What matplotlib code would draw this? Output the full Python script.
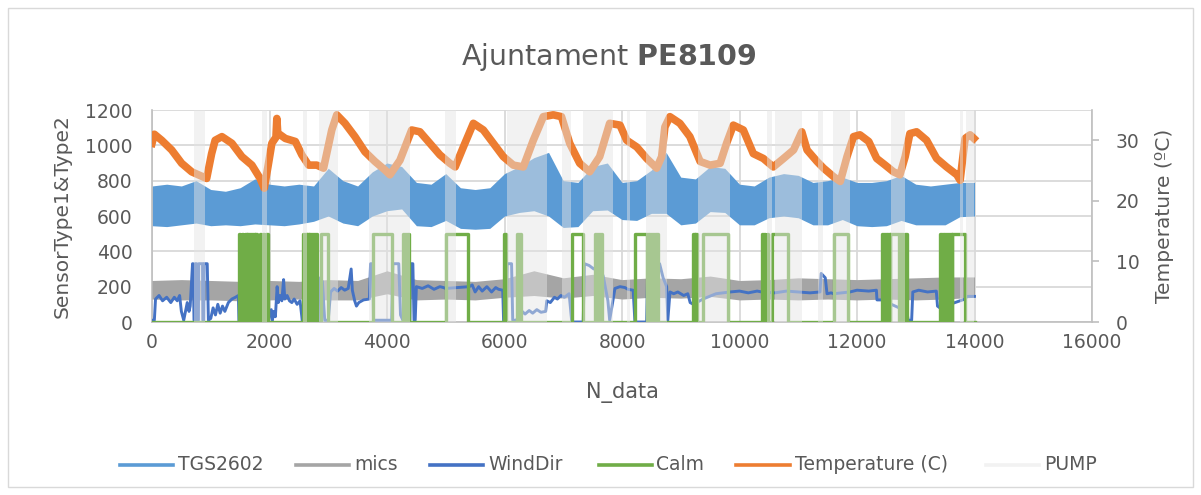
import matplotlib
matplotlib.use("Agg")
import matplotlib.pyplot as plt
from matplotlib.lines import Line2D
from matplotlib.patches import Rectangle

plt.rcParams["font.family"] = ["DejaVu Sans"]
TXT = "#595959"

# ---------------------------------------------------------------- data
# TGS2602 band (left axis), envelope
tgs_x = [0, 250, 500, 750, 1000, 1250, 1500, 1750, 2000, 2250, 2500, 2750, 3000, 3250,
         3500, 3750, 4000, 4250, 4500, 4750, 5000, 5250, 5500, 5750, 6000, 6250, 6500,
         6750, 7000, 7250, 7500, 7750, 8000, 8250, 8500, 8750, 9000, 9250, 9500, 9750,
         10000, 10250, 10500, 10750, 11000, 11250, 11500, 11750, 12000, 12250, 12500,
         12750, 13000, 13250, 13500, 13750, 14000]
tgs_hi = [770, 780, 770, 800, 750, 740, 760, 810, 780, 770, 780, 770, 870, 800,
          770, 850, 900, 880, 790, 780, 840, 760, 750, 760, 840, 880, 930,
          960, 800, 790, 880, 900, 790, 800, 860, 960, 820, 810, 880, 870,
          780, 770, 820, 840, 830, 790, 800, 820, 790, 790, 800,
          830, 780, 770, 780, 790, 790]
tgs_lo = [545, 540, 550, 560, 545, 550, 545, 555, 550, 545, 555, 570, 600, 560,
          545, 600, 630, 640, 545, 540, 575, 530, 525, 530, 600, 620, 630,
          600, 535, 540, 630, 634, 580, 575, 615, 615, 550, 560, 625, 620,
          550, 550, 590, 600, 590, 550, 550, 580, 545, 540, 545,
          575, 550, 550, 550, 596, 600]

# mics band (left axis)
mics_x = [0, 500, 1000, 1500, 2000, 2500, 3000, 3500, 4000, 4500, 5000, 5500, 6000,
          6500, 7000, 7500, 8000, 8500, 9000, 9500, 10000, 10500, 11000, 11500, 12000,
          12500, 13000, 13500, 14000]
mics_hi = [235, 240, 235, 230, 235, 230, 240, 235, 290, 240, 235, 230, 245,
           290, 250, 270, 240, 250, 245, 260, 235, 240, 250, 245, 240,
           245, 250, 255, 255]
mics_lo = [130, 125, 125, 120, 125, 130, 125, 125, 160, 125, 130, 125, 140,
           150, 135, 150, 130, 140, 135, 145, 125, 130, 125, 130, 125,
           130, 125, 130, 140]

# WindDir (left axis)
wd_x = [0, 40, 60, 120, 180, 250, 320, 380, 430, 470, 500, 540, 570, 600, 630, 650,
        690, 700, 715, 730, 735, 760, 765, 790, 795, 860, 865, 880, 885, 940, 960,
        1000, 1040, 1080, 1120, 1160, 1200, 1240, 1300, 1360, 1420, 1470, 1480, 1980,
        2000, 2030, 2050, 2070, 2100, 2130, 2150, 2180, 2210, 2240, 2260, 2300, 2340,
        2380, 2420, 2470, 2520, 2560, 2830, 2840, 2900, 2940, 3000, 3040, 3100, 3160,
        3220, 3280, 3340, 3390, 3410, 3450, 3480, 3520, 3600, 3700, 3720, 3760, 3770,
        4080, 4100, 4200, 4230, 4270, 4390, 4400, 4440, 4460, 4480, 4500, 4600, 4700,
        4800, 4900, 4960, 5000, 5400, 5450, 5500, 5560, 5620, 5700, 5780, 5850, 5900,
        5970, 5985, 6030, 6045, 6120, 6140, 6200, 6260, 6300, 6350, 6420, 6480, 6550,
        6620, 6700, 6720, 6780, 6850, 6900, 6960, 7020, 7100, 7145, 7340, 7360, 7440,
        7520, 7600, 7680, 7760, 7790, 7830, 7880, 7966, 8050, 8100, 8190, 8220, 8420,
        8440, 8640, 8700, 8760, 8780, 8817, 8880, 8950, 9050, 9120, 9160, 9215, 9380,
        9600, 9840, 10000, 10150, 10300, 10380, 10600, 10800, 11000, 11200, 11370,
        11390, 11460, 11490, 11560, 11600, 11880, 12000, 12200, 12330, 12340, 12420,
        12850, 12870, 12930, 12950, 13050, 13200, 13350, 13370, 13410, 13840, 13870,
        14000]
wd_v = [10, 10, 130, 150, 120, 140, 110, 140, 120, 150, 60, 10, 60, 110, 60, 90,
        330, 330, 10, 10, 330, 330, 10, 10, 330, 330, 10, 10, 330, 330, 10,
        20, 80, 40, 100, 50, 90, 60, 110, 130, 140, 150, 0, 0,
        40, 70, 10, 60, 30, 200, 110, 150, 120, 240, 130, 150, 120,
        110, 130, 100, 120, 0, 0, 250, 230, 10, 10, 170, 190, 175,
        195, 180, 190, 300, 180, 120, 90, 110, 125, 130, 330, 330, 10,
        10, 330, 330, 40, 10, 10, 330, 330, 10, 10, 200, 190, 205,
        185, 200, 195, 190, 200, 210, 170, 200, 175, 200, 170, 195, 185,
        180, 0, 0, 330, 330, 10, 10, 40, 60, 45, 65, 50, 70,
        55, 60, 120, 110, 140, 130, 150, 140, 160, 0, 0, 330, 320,
        300, 330, 260, 120, 10, 90, 190, 200, 195, 185, 180, 0, 0,
        330, 330, 250, 200, 10, 170, 160, 170, 150, 160, 110, 100, 130,
        160, 170, 175, 165, 175, 170, 165, 175, 170, 165, 170,
        275, 250, 160, 165, 160, 170, 180, 175, 180, 125, 125,
        60, 10, 10, 170, 180, 170, 175, 90, 80, 130, 145,
        145]

# Calm pulses (0 / 500), start and end of each "calm" period
calm_on = [(1480, 1500), (1530, 1555), (1590, 1610), (1625, 1645), (1660, 1680),
           (1695, 1715), (1730, 1750), (1760, 1780), (1840, 1860), (1890, 1910),
           (1945, 1970), (2575, 2595), (2610, 2630), (2645, 2665), (2680, 2700),
           (2715, 2735), (2750, 2770), (2785, 2805), (2870, 2990), (3770, 4080),
           (4270, 4290), (4310, 4330), (4345, 4370), (5010, 5380), (5985, 6030),
           (6220, 6250), (6260, 6285), (7145, 7340), (7540, 7560), (7575, 7595),
           (7610, 7630), (7640, 7655), (8220, 8420), (8450, 8470), (8490, 8510),
           (8530, 8550), (8570, 8615), (9215, 9235), (9250, 9270), (9385, 9810),
           (10380, 10400), (10420, 10440), (10470, 10490), (10550, 10830),
           (11600, 11850), (12420, 12440), (12460, 12480), (12500, 12520),
           (12540, 12560), (12565, 12720), (12730, 12750), (12770, 12790),
           (12810, 12845), (13410, 13440), (13470, 13500), (13515, 13535),
           (13550, 13570), (13590, 13610), (13615, 13840)]
calm_level = 500
n_end = 14000

# Temperature (right axis)
temp_x = [0, 40, 165, 335, 505, 675, 790, 930, 1015, 1075, 1190, 1360, 1530, 1700,
          1840, 1910, 1975, 2040, 2110, 2125, 2140, 2270, 2440, 2550, 2665, 2805,
          2920, 3060, 3145, 3285, 3455, 3625, 3795, 3965, 4050, 4220, 4420, 4560,
          4730, 4900, 5070, 5160, 5300, 5470, 5640, 5810, 5980, 6150, 6320, 6490,
          6660, 6830, 6970, 7110, 7280, 7450, 7620, 7790, 7966, 8080, 8250, 8420,
          8590, 8675, 8730, 8815, 8985, 9155, 9330, 9500, 9670, 9780, 9895, 10065,
          10235, 10405, 10575, 10750, 10920, 11060, 11150, 11320, 11430, 11600,
          11715, 11830, 11940, 12050, 12200, 12335, 12480, 12620, 12730, 12820,
          12900, 13015, 13185, 13355, 13525, 13700, 13755, 13840, 13925, 13990]
temp_v = [29.5, 31.0, 30.0, 28.4, 26.2, 24.8, 24.3, 23.7, 27.8, 30.0, 30.6, 29.5,
          27.3, 25.9, 23.7, 22.1, 25.7, 29.5, 30.5, 33.6, 31.2, 30.3, 29.8, 27.6,
          25.9, 25.9, 25.4, 31.7, 34.2, 32.8, 30.6, 28.1, 26.5, 25.1, 24.3, 26.7,
          31.7, 31.4, 29.5, 27.6, 26.2, 25.6, 28.9, 32.8, 31.7, 29.5, 27.3, 25.9,
          25.6, 30.0, 33.9, 34.2, 33.9, 29.5, 26.2, 24.8, 27.3, 32.8, 32.5, 30.0,
          28.9, 27.0, 25.4, 27.3, 32.2, 33.9, 32.8, 30.6, 26.5, 25.9, 26.2, 29.5,
          32.5, 31.7, 27.8, 27.0, 25.6, 27.0, 28.4, 31.4, 28.4, 26.5, 25.4, 24.0,
          23.2, 27.3, 30.6, 30.9, 29.8, 27.0, 25.9, 24.8, 24.3, 27.3, 31.1, 31.4,
          30.0, 27.0, 25.6, 24.3, 23.4, 30.3, 30.9, 30.3]

# PUMP on periods
pump_on = [(720, 910), (1880, 1960), (2570, 2640), (2840, 3170), (3690, 4390),
           (4990, 5170), (6040, 6720), (6980, 7140), (7340, 7850), (8080, 8140),
           (8400, 8760), (9290, 9840), (10470, 10550), (10600, 11060),
           (11340, 11420), (11590, 11880), (12580, 12820), (13750, 13810),
           (13860, 13990)]

labels = ["TGS2602", "mics", "WindDir", "Calm", "Temperature (C)", "PUMP"]
colors = ["#5B9BD5", "#A5A5A5", "#4472C4", "#70AD47", "#ED7D31", "#F2F2F2"]

# calm step line built from the pulses
calm_x, calm_y = [0], [0]
for s, e in calm_on:
    calm_x += [s, s, e, e]
    calm_y += [0, calm_level, calm_level, 0]
calm_x.append(n_end)
calm_y.append(0)

# ---------------------------------------------------------------- figure
W, H = 1201, 495
fig = plt.figure(figsize=(W / 100, H / 100), dpi=100)
fig.patches.append(Rectangle((8 / W, 8 / H), 1185 / W, 479 / H, transform=fig.transFigure,
                             fill=False, edgecolor="#D9D9D9", lw=1))

ax = fig.add_axes([152 / W, 1 - 322 / H, 940 / W, 212 / H])
ax.set_axisbelow(True)
ax.fill_between(tgs_x, tgs_lo, tgs_hi, color=colors[0], lw=0, zorder=2)
ax.fill_between(mics_x, mics_lo, mics_hi, color=colors[1], lw=0, zorder=3)
ax.plot(wd_x, wd_v, color=colors[2], lw=2.1, zorder=4)
ax.plot(calm_x, calm_y, color=colors[3], lw=2.4, zorder=5)

ax.set_xlim(0, 16000)
ax.set_ylim(0, 1200)
ax.set_xticks(range(0, 16001, 2000))
ax.set_yticks(range(0, 1201, 200))
ax.grid(True, color="#D9D9D9", lw=1.3)
for side in ["top", "right"]:
    ax.spines[side].set_visible(False)
for side in ["left", "bottom"]:
    ax.spines[side].set_color("#BFBFBF")
    ax.spines[side].set_linewidth(1.2)
ax.tick_params(axis="both", length=0, labelsize=13.5, labelcolor=TXT)
ax.tick_params(axis="y", pad=14)
ax.tick_params(axis="x", pad=8)

ax2 = ax.twinx()
ax2.plot(temp_x, temp_v, color=colors[4], lw=5.5, zorder=2, solid_joinstyle="round")
for s, e in pump_on:
    ax2.axvspan(s, e, color="#E4E4E4", alpha=0.48, lw=0, zorder=6)
ax2.set_ylim(0, 35)
ax2.set_yticks([0, 10, 20, 30])
for side in ["top", "left", "bottom"]:
    ax2.spines[side].set_visible(False)
ax2.spines["right"].set_color("#BFBFBF")
ax2.spines["right"].set_linewidth(1.2)
ax2.tick_params(axis="y", length=5, width=1.2, color="#BFBFBF", direction="out",
                labelsize=13.5, labelcolor=TXT, pad=12)

ax.set_ylabel("SensorType1&Type2", fontsize=14.5, color=TXT)
ax.yaxis.set_label_coords((62 - 152) / 940, 0.5)
ax.yaxis.label.set_va("center")
ax2.set_ylabel("Temperature (ºC)", fontsize=14.5, color=TXT)
ax2.yaxis.set_label_coords((1164 - 152) / 940, 0.5)
ax2.yaxis.label.set_va("center")
ax.set_xlabel("N_data", fontsize=15, color=TXT)
ax.xaxis.set_label_coords((622 - 152) / 940, (322 - 393) / 212)
ax.xaxis.label.set_va("center")

fig.text(609 / W, 1 - 57 / H, r"Ajuntament $\mathbf{PE8109}$", ha="center", va="center",
         fontsize=20.5, color=TXT)

# legend along the bottom
leg_h = [(120, 173), (296, 349), (430, 483), (599, 652), (736, 790), (986, 1039)]
leg_t = [178, 354, 488, 656, 795, 1044]
ly = 1 - 465 / H
for (x0, x1), xt, lab, c in zip(leg_h, leg_t, labels, colors):
    fig.add_artist(Line2D([x0 / W, x1 / W], [ly, ly], transform=fig.transFigure,
                          color=c, lw=2.6))
    fig.text(xt / W, ly, lab, ha="left", va="center", fontsize=13.5, color=TXT)

fig.savefig("out.png", dpi=100)
